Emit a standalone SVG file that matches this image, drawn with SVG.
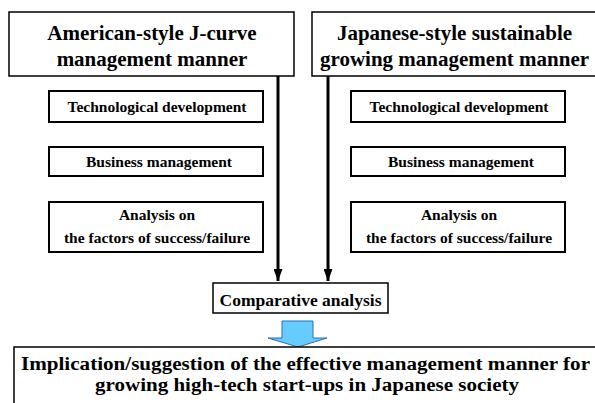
<svg xmlns="http://www.w3.org/2000/svg" width="595" height="403" viewBox="0 0 595 403">
<defs>
<style>
.box{fill:#fff;stroke:#000;stroke-width:1.5}
.sbox{fill:#fff;stroke:#000;stroke-width:2}
.line{stroke:#000;stroke-width:3;fill:none}
</style>
<marker id="ah" markerWidth="4" markerHeight="3" refX="4" refY="1.5" orient="auto" markerUnits="strokeWidth">
<path d="M0,0 L4,1.5 L0,3 Z" fill="#000"/>
</marker>
</defs>
<rect width="595" height="403" fill="#fff"/>
<g id="connectors">
<line class="line" x1="278" y1="76" x2="278" y2="281" marker-end="url(#ah)"/>
<line class="line" x1="328" y1="76" x2="328" y2="281" marker-end="url(#ah)"/>
<path d="M282,321 L313,321 L313,338 L327,338 L298,347 L268,338 L282,338 Z" fill="#66CCFF" stroke="#2F6FA8" stroke-width="1"/>
</g>
<g font-family="Liberation Serif, Times New Roman, serif" font-weight="bold" fill="#000" text-anchor="middle">
<g id="us" font-size="21">
<rect class="box" x="9" y="12" width="285" height="64"/>
<text x="152" y="40">American-style J-curve</text>
<text x="152" y="66">management manner</text>
</g>
<g id="jp" font-size="21">
<rect class="box" x="312" y="12" width="285" height="64"/>
<text x="454.5" y="40">Japanese-style sustainable</text>
<text x="454.5" y="66">growing management manner</text>
</g>
<g id="us-tech" font-size="15.5">
<rect class="sbox" x="49" y="91" width="214" height="31"/>
<text x="157" y="112">Technological development</text>
</g>
<g id="us-biz" font-size="15.5">
<rect class="sbox" x="49" y="147" width="214" height="29"/>
<text x="159" y="167">Business management</text>
</g>
<g id="us-analysis" font-size="15.5">
<rect class="sbox" x="49" y="202" width="214" height="50"/>
<text x="157" y="220">Analysis on</text>
<text x="157" y="243">the factors of success/failure</text>
</g>
<g id="jp-tech" font-size="15.5">
<rect class="sbox" x="351" y="91" width="214" height="31"/>
<text x="459" y="112">Technological development</text>
</g>
<g id="jp-biz" font-size="15.5">
<rect class="sbox" x="351" y="147" width="214" height="29"/>
<text x="461" y="167">Business management</text>
</g>
<g id="jp-analysis" font-size="15.5">
<rect class="sbox" x="351" y="202" width="214" height="50"/>
<text x="459" y="220">Analysis on</text>
<text x="459" y="243">the factors of success/failure</text>
</g>
<g id="comparative" font-size="17.5">
<rect class="box" x="213" y="283" width="175" height="30"/>
<text x="300.5" y="306">Comparative analysis</text>
</g>
<g id="implication" font-size="18.5">
<rect class="box" x="14" y="347" width="584" height="60"/>
<text x="305.5" y="370" textLength="569" lengthAdjust="spacingAndGlyphs">Implication/suggestion of the effective management manner for</text>
<text x="307" y="391" textLength="424" lengthAdjust="spacingAndGlyphs">growing high-tech start-ups in Japanese society</text>
</g>
</g>
</svg>
